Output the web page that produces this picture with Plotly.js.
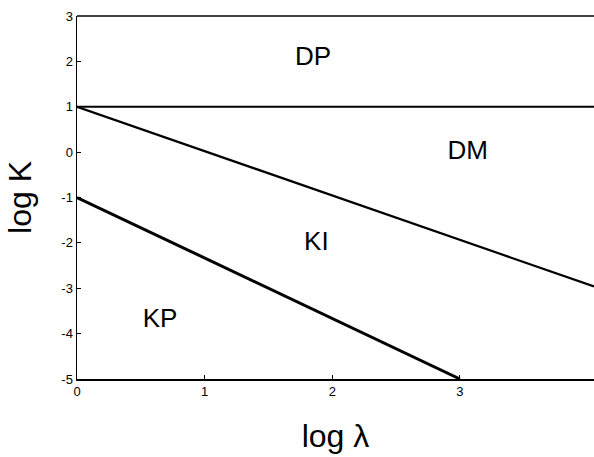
<!DOCTYPE html>
<html><head><meta charset="utf-8">
<script src="https://cdn.plot.ly/plotly-3.0.1.min.js"></script>
<style>html,body{margin:0;padding:0;background:#fff}#c{width:594px;height:457px}</style>
</head><body><div id="c"></div>
<script>
// Boundary lines (log λ, log K)
const dpdmX = [0, 4.05];
const dpdmY = [1, 1];
const dmkiX = [0, 4.05];
const dmkiY = [1, -2.96];
const kikpX = [0, 3];
const kikpY = [-1, -5];
// Region labels
const regionNames = ["DP", "DM", "KI", "KP"];
const regionX = [1.85, 3.06, 1.875, 0.65];
const regionY = [2.07, 0.0, -2.01, -3.71];
const xTicks = [0, 1, 2, 3];
const yTicks = [-5, -4, -3, -2, -1, 0, 1, 2, 3];

const font = "Liberation Sans, Arial, sans-serif";
const traces = [
  {x: dpdmX, y: dpdmY, mode: "lines", line: {color: "#000", width: 2}, hoverinfo: "skip"},
  {x: dmkiX, y: dmkiY, mode: "lines", line: {color: "#000", width: 2.2}, hoverinfo: "skip"},
  {x: kikpX, y: kikpY, mode: "lines", line: {color: "#000", width: 3}, hoverinfo: "skip"},
  {x: regionX, y: regionY, mode: "text", text: regionNames,
   textfont: {family: font, size: 26, color: "#000"}, hoverinfo: "skip"}
];
const layout = {
  width: 594, height: 457,
  margin: {l: 77, r: 0, t: 16, b: 78},
  showlegend: false,
  paper_bgcolor: "#fff", plot_bgcolor: "#fff",
  font: {family: font, color: "#000"},
  xaxis: {
    range: [0, 4.05], tickvals: xTicks, ticktext: xTicks.map(String),
    showgrid: false, zeroline: false, showline: true, linecolor: "#000", linewidth: 1.5,
    ticks: "inside", ticklen: 4, tickcolor: "#000",
    tickfont: {family: font, size: 13, color: "#000"},
    title: {text: "log λ", font: {family: font, size: 32, color: "#000"}, standoff: 26}
  },
  yaxis: {
    range: [-5, 3], tickvals: yTicks, ticktext: yTicks.map(String),
    showgrid: false, zeroline: false, showline: true, linecolor: "#000", linewidth: 1.5,
    ticks: "inside", ticklen: 4, tickcolor: "#000",
    tickfont: {family: font, size: 13, color: "#000"},
    title: {text: "log K", font: {family: font, size: 32, color: "#000"}, standoff: 20}
  },
  shapes: [{type: "line", xref: "paper", yref: "paper", x0: 0, x1: 1, y0: 1, y1: 1,
            line: {color: "#000", width: 1.5}}]
};
Plotly.newPlot("c", traces, layout, {displayModeBar: false, staticPlot: true});
</script></body></html>
